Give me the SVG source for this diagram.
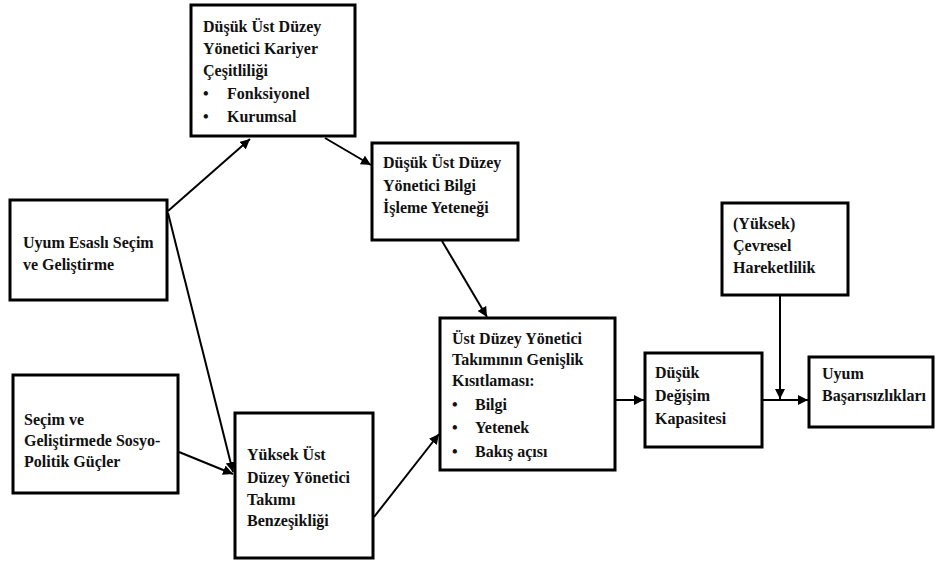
<svg xmlns="http://www.w3.org/2000/svg" width="936" height="561" viewBox="0 0 936 561">
<style>
.box{fill:#fff;stroke:#000;stroke-width:3}
.t{font-family:'Liberation Serif','Times New Roman','DejaVu Serif',serif;font-size:16px;font-weight:700;fill:#111}
.c{stroke:#000;stroke-width:2;fill:none}
</style>
<defs>
<marker id="ah" viewBox="0 0 10 10" refX="10" refY="5" markerWidth="5" markerHeight="5" orient="auto" markerUnits="strokeWidth">
<path d="M0,0 L10,5 L0,10 z" fill="#000"/>
</marker>
</defs>
<rect width="936" height="561" fill="#fff"/>
<g id="connectors">
<line class="c" x1="168" y1="211" x2="250" y2="139" marker-end="url(#ah)"/>
<line class="c" x1="168" y1="213" x2="233" y2="472" marker-end="url(#ah)"/>
<line class="c" x1="179" y1="452" x2="233" y2="474" marker-end="url(#ah)"/>
<line class="c" x1="325" y1="138" x2="371" y2="165" marker-end="url(#ah)"/>
<line class="c" x1="442" y1="241" x2="487" y2="317" marker-end="url(#ah)"/>
<line class="c" x1="374" y1="517" x2="439" y2="434" marker-end="url(#ah)"/>
<line class="c" x1="616" y1="400" x2="644" y2="400" marker-end="url(#ah)"/>
<line class="c" x1="763" y1="400" x2="808" y2="400" marker-end="url(#ah)"/>
<line class="c" x1="780" y1="296" x2="780" y2="399" marker-end="url(#ah)"/>
</g>
<g class="t" font-family="Liberation Serif, serif">
<g id="kariyer">
<rect class="box" x="191" y="5" width="164" height="131"/>
<text x="203" y="32">Düşük Üst Düzey</text>
<text x="203" y="54">Yönetici Kariyer</text>
<text x="203" y="76">Çeşitliliği</text>
<text x="203" y="99">•</text><text x="227" y="99">Fonksiyonel</text>
<text x="203" y="122">•</text><text x="227" y="122">Kurumsal</text>
</g>
<g id="bilgi">
<rect class="box" x="372" y="143" width="146" height="97"/>
<text x="383" y="168">Düşük Üst Düzey</text>
<text x="383" y="191">Yönetici Bilgi</text>
<text x="383" y="213">İşleme Yeteneği</text>
</g>
<g id="uyum-esasli">
<rect class="box" x="10" y="200" width="157" height="100"/>
<text x="23" y="248">Uyum Esaslı Seçim</text>
<text x="23" y="270">ve Geliştirme</text>
</g>
<g id="sosyo">
<rect class="box" x="13" y="375" width="165" height="118"/>
<text x="24" y="425">Seçim ve</text>
<text x="24" y="446">Geliştirmede Sosyo-</text>
<text x="24" y="467">Politik Güçler</text>
</g>
<g id="benzesiklik">
<rect class="box" x="235" y="413" width="138" height="145"/>
<text x="247" y="460">Yüksek Üst</text>
<text x="247" y="483">Düzey Yönetici</text>
<text x="247" y="505">Takımı</text>
<text x="247" y="526">Benzeşikliği</text>
</g>
<g id="genislik">
<rect class="box" x="440" y="318" width="175" height="152"/>
<text x="452" y="344">Üst Düzey Yönetici</text>
<text x="452" y="365">Takımının Genişlik</text>
<text x="452" y="386">Kısıtlaması:</text>
<text x="452" y="410">•</text><text x="475" y="410">Bilgi</text>
<text x="452" y="433">•</text><text x="475" y="433">Yetenek</text>
<text x="452" y="457">•</text><text x="475" y="457">Bakış açısı</text>
</g>
<g id="degisim">
<rect class="box" x="645" y="353" width="117" height="94"/>
<text x="655" y="378">Düşük</text>
<text x="655" y="401">Değişim</text>
<text x="655" y="424">Kapasitesi</text>
</g>
<g id="cevresel">
<rect class="box" x="722" y="203" width="126" height="92"/>
<text x="733" y="229">(Yüksek)</text>
<text x="733" y="251">Çevresel</text>
<text x="733" y="273">Hareketlilik</text>
</g>
<g id="basarisizlik">
<rect class="box" x="809" y="357" width="124" height="70"/>
<text x="822" y="379">Uyum</text>
<text x="822" y="401">Başarısızlıkları</text>
</g>
</g>
</svg>
